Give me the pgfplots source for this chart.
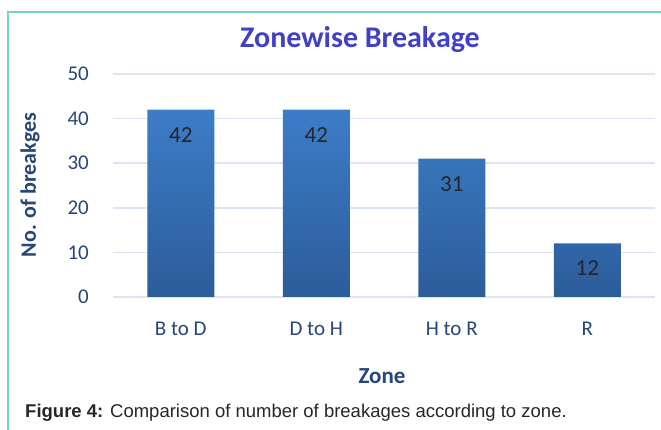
\documentclass[border=0pt]{standalone}
\usepackage{fontspec}
\setmainfont{Carlito}
\newfontfamily\capfont{Liberation Sans}
\usepackage{pgfplots}
\pgfplotsset{compat=1.18}

\definecolor{frame}{RGB}{114,214,198}
\definecolor{titleblue}{RGB}{64,64,200}
\definecolor{labblue}{RGB}{38,70,122}
\definecolor{gridc}{RGB}{220,230,242}
\definecolor{bartop}{RGB}{60,125,200}
\definecolor{barbot}{RGB}{44,92,154}

\begin{document}
\begin{tikzpicture}[x=1pt,y=1pt]
\path[use as bounding box] (0,0) rectangle (661,430);
\draw[frame, line width=2pt] (8,0) -- (8,418) -- (661,418);

\begin{axis}[
    at={(113pt,133pt)}, anchor=south west,
    scale only axis,
    width=542pt, height=223pt,
    xmin=-0.5, xmax=3.5,
    ymin=0, ymax=50,
    ytick={0,10,20,30,40,50},
    xtick={0,1,2,3},
    xticklabels={B to D, D to H, H to R, R},
    axis line style={draw=none},
    major tick length=0pt,
    ymajorgrids=true,
    grid style={gridc, line width=1.5pt},
    /pgf/number format/assume math mode=true,
    tick label style={font=\fontsize{21}{24}\selectfont, text=labblue, inner sep=0pt},
    yticklabel style={anchor=east, xshift=-24pt},
    xticklabel style={anchor=north, yshift=-25pt},
    clip=false,
]
\addplot[
    ybar, bar width=67pt, draw=none,
    top color=bartop, bottom color=barbot,
    nodes near coords,
    every node near coord/.append style={anchor=center, yshift=-25pt,
        font=\fontsize{23}{26}\selectfont, text=black!85},
] coordinates {(0,42) (1,42) (2,31) (3,12)};
\end{axis}

\node[font=\fontsize{30}{34}\selectfont\bfseries, text=titleblue] at (360,390) {Zonewise Breakage};
\node[font=\fontsize{22}{26}\selectfont\bfseries, text=labblue, rotate=90] at (30,245) {No. of breakges};
\node[font=\fontsize{23}{26}\selectfont\bfseries, text=labblue] at (382,54) {Zone};
\node[anchor=base west, inner sep=0pt, font=\capfont\fontsize{18.5}{21}\selectfont, text=black!85] at (25,12) {\textbf{Figure 4:} Comparison of number of breakages according to zone.};
\end{tikzpicture}
\end{document}
